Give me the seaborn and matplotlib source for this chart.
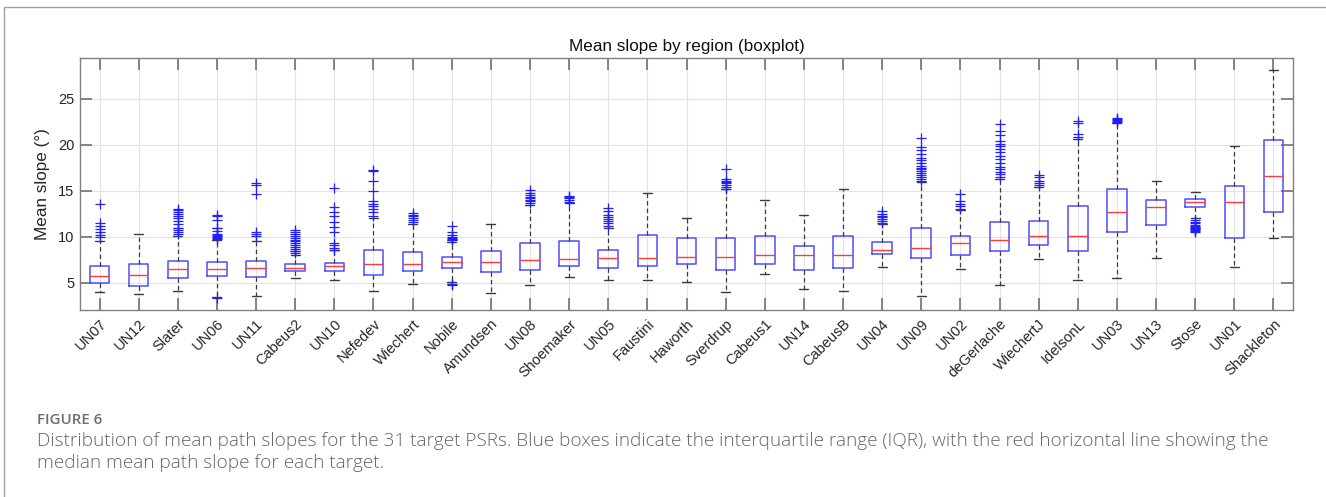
import numpy as np
import pandas as pd
import matplotlib
matplotlib.use("Agg")
import matplotlib.pyplot as plt
from matplotlib.lines import Line2D
import seaborn as sns

# ---- data: per-region box statistics of mean path slope (degrees) ----
regions = ["UN07", "UN12", "Slater", "UN06", "UN11", "Cabeus2", "UN10", "Nefedev",
           "Wiechert", "Nobile", "Amundsen", "UN08", "Shoemaker", "UN05", "Faustini",
           "Haworth", "Sverdrup", "Cabeus1", "UN14", "CabeusB", "UN04", "UN09", "UN02",
           "deGerlache", "WiechertJ", "IdelsonL", "UN03", "UN13", "Stose", "UN01",
           "Shackleton"]

whisk_lo = [3.95, 3.77, 4.06, 3.45, 3.56, 5.47, 5.29, 4.13, 4.82, 5.05, 3.92, 4.71,
            5.58, 5.36, 5.36, 5.11, 4.03, 6.01, 4.28, 4.10, 6.70, 3.59, 6.45, 4.75,
            7.57, 5.36, 5.47, 7.68, 12.01, 6.70, 9.84]
q1 = [4.96, 4.64, 5.50, 5.69, 5.65, 6.26, 6.30, 5.90, 6.30, 6.66, 6.16, 6.44, 6.80,
      6.66, 6.80, 6.99, 6.44, 7.02, 6.34, 6.66, 8.11, 7.64, 8.07, 8.47, 9.12, 8.40,
      10.50, 11.25, 13.24, 9.88, 12.74]
med = [5.69, 5.83, 6.48, 6.55, 6.59, 6.62, 6.81, 7.02, 7.02, 7.24, 7.31, 7.53, 7.60,
       7.67, 7.74, 7.78, 7.82, 8.00, 8.00, 8.07, 8.54, 8.76, 9.30, 9.63, 10.13, 10.13,
       12.66, 13.28, 13.75, 13.82, 16.64]
q3 = [6.84, 6.99, 7.38, 7.27, 7.38, 6.99, 7.20, 8.54, 8.36, 7.78, 8.43, 9.30, 9.58,
      8.54, 10.23, 9.87, 9.91, 10.05, 9.00, 10.05, 9.48, 11.00, 10.06, 11.65, 11.69,
      13.32, 15.23, 14.00, 14.11, 15.56, 20.51]
whisk_hi = [9.55, 10.30, 10.13, 9.62, 9.55, 8.03, 8.54, 12.08, 11.43, 9.48, 11.39,
            13.45, 13.66, 10.99, 14.75, 12.00, 15.14, 13.95, 12.33, 15.14, 11.40, 15.92,
            12.85, 16.32, 15.41, 20.65, 22.35, 16.10, 14.90, 19.90, 28.07]

outliers = [
    [10.0, 10.2, 10.5, 10.8, 11.2, 11.5, 13.6],                                    # UN07
    [],                                                                            # UN12
    [10.3, 10.5, 10.7, 10.9, 11.0, 11.4, 11.7, 12.0, 12.2, 12.5, 12.7, 12.9, 13.0],  # Slater
    [3.3, 9.8, 9.9, 10.0, 10.1, 10.2, 10.3, 10.6, 10.9, 11.0, 11.8, 12.2, 12.4],    # UN06
    [10.1, 10.3, 10.5, 14.6, 15.6, 15.8],                                          # UN11
    [8.2, 8.4, 8.5, 8.7, 8.9, 9.1, 9.3, 9.5, 9.7, 9.9, 10.1, 10.3, 10.5, 10.7],     # Cabeus2
    [8.6, 8.8, 9.1, 9.3, 10.5, 11.1, 11.6, 12.3, 12.7, 13.2, 15.3],                # UN10
    [12.3, 12.7, 13.0, 13.3, 13.6, 13.9, 15.0, 16.0, 17.1, 17.2],                  # Nefedev
    [11.6, 11.8, 12.0, 12.2, 12.4, 12.6],                                          # Wiechert
    [4.8, 4.85, 4.9, 9.6, 9.7, 9.8, 9.9, 10.0, 10.2, 10.5, 11.2],                  # Nobile
    [],                                                                            # Amundsen
    [13.7, 13.9, 14.0, 14.2, 14.3, 14.5, 14.7, 15.1],                              # UN08
    [13.8, 14.0, 14.2, 14.3, 14.4],                                                # Shoemaker
    [11.2, 11.5, 11.7, 11.9, 12.1, 12.4, 12.8, 13.1],                              # UN05
    [],                                                                            # Faustini
    [],                                                                            # Haworth
    [15.2, 15.4, 15.6, 15.8, 15.9, 16.1, 16.3, 17.4],                              # Sverdrup
    [],                                                                            # Cabeus1
    [],                                                                            # UN14
    [],                                                                            # CabeusB
    [11.5, 11.7, 11.9, 12.1, 12.3, 12.5, 12.8],                                    # UN04
    [16.1, 16.3, 16.5, 16.7, 16.9, 17.1, 17.3, 17.5, 17.7, 18.0, 18.3, 18.6,
     19.0, 19.4, 19.7, 20.7],                                                      # UN09
    [13.0, 13.3, 13.6, 13.9, 14.6],                                                # UN02
    [16.5, 16.8, 17.0, 17.3, 17.6, 18.0, 18.4, 18.8, 19.2, 19.5, 19.8, 20.1,
     20.4, 21.0, 21.5, 22.2],                                                      # deGerlache
    [15.6, 15.8, 16.1, 16.5, 16.7],                                                # WiechertJ
    [20.8, 21.1, 22.3, 22.6],                                                      # IdelsonL
    [22.5, 22.6, 22.7, 22.8, 22.9],                                                # UN03
    [],                                                                            # UN13
    [10.5, 10.6, 10.7, 10.8, 10.9, 11.0, 11.1, 11.2, 11.3, 11.5, 11.6, 11.8],      # Stose
    [],                                                                            # UN01
    [],                                                                            # Shackleton
]

title = "Mean slope by region (boxplot)"
ylabel = "Mean slope (°)"
fig_label = "FIGURE 6"
caption_lines = [
    "Distribution of mean path slopes for the 31 target PSRs. Blue boxes indicate "
    "the interquartile range (IQR), with the red horizontal line showing the",
    "median mean path slope for each target.",
]

# ---- style ----
sns.set_theme(style="whitegrid")
plt.rcParams["font.family"] = ["Liberation Sans", "DejaVu Sans"]

fig = plt.figure(figsize=(13.26, 4.97), dpi=100)
ax = fig.add_axes([80 / 1326, 1 - 310 / 497, (1293 - 80) / 1326, (310 - 58) / 497])
ax.set_facecolor("white")

positions = np.arange(1, len(regions) + 1)

# boxes from the summary statistics
stats = [
    {"whislo": lo, "q1": a, "med": m, "q3": b, "whishi": hi, "fliers": []}
    for lo, a, m, b, hi in zip(whisk_lo, q1, med, q3, whisk_hi)
]
ax.bxp(
    stats, positions=positions, widths=0.5, capwidths=0.23, showfliers=False,
    boxprops=dict(color="#4d4dff", linewidth=1.1),
    medianprops=dict(color="#ff3a3a", linewidth=1.0),
    whiskerprops=dict(color="#3a3a3a", linewidth=0.9, linestyle=(0, (3.5, 2.5))),
    capprops=dict(color="#3a3a3a", linewidth=1.0),
    manage_ticks=False, zorder=3,
)

# outlier markers
out_df = pd.DataFrame(
    [(positions[i], v) for i, vals in enumerate(outliers) for v in vals],
    columns=["pos", "slope"],
)
sns.scatterplot(data=out_df, x="pos", y="slope", marker="+", color="#2020ff",
                s=45, linewidth=0.9, ax=ax, zorder=4, legend=False)

# axes, ticks, grid in the boxed style
ax.set_xlim(0.5, len(regions) + 0.5)
ax.set_ylim(2.05, 29.4)
ax.set_xticks(positions)
ax.set_xticklabels(regions, rotation=45, ha="right", rotation_mode="anchor",
                   fontsize=10.5, color="#262626")
ax.set_yticks([5, 10, 15, 20, 25])
ax.set_yticklabels(["5", "10", "15", "20", "25"], fontsize=10.5, color="#262626")
ax.tick_params(axis="both", which="major", direction="in", length=8.5, width=1.1,
               color="#666666", top=True, right=True, bottom=True, left=True)
ax.tick_params(axis="x", pad=5)
ax.tick_params(axis="y", pad=4)
ax.grid(True, color="#e3e3e3", linewidth=0.8)
for side in ["top", "bottom", "left", "right"]:
    ax.spines[side].set_visible(True)
    ax.spines[side].set_color("#808080")
    ax.spines[side].set_linewidth(1.0)
ax.set_xlabel("")
ax.set_ylabel(ylabel, fontsize=12.3, color="#262626", labelpad=6)
ax.set_title(title, fontsize=12.3, color="#111111", pad=5)

# panel frame and caption
frame_kw = dict(color="#a0a0a0", linewidth=1.0, transform=fig.transFigure)
fig.add_artist(Line2D([4 / 1326, 1.0], [1 - 7 / 497, 1 - 7 / 497], **frame_kw))
fig.add_artist(Line2D([4 / 1326, 4 / 1326], [0.0, 1 - 7 / 497], **frame_kw))
cap_font = ["Open Sans", "DejaVu Sans"]
fig.text(37 / 1326, 1 - 420 / 497, fig_label, fontsize=10.8, fontweight="semibold",
         color="#6b6e75", family=cap_font, va="center")
for y_px, line in zip([441, 463], caption_lines):
    fig.text(37 / 1326, 1 - y_px / 497, line, fontsize=13.7, fontweight="light",
             color="#62666e", family=cap_font, va="center")

fig.savefig("out.png", dpi=100, facecolor="white")
